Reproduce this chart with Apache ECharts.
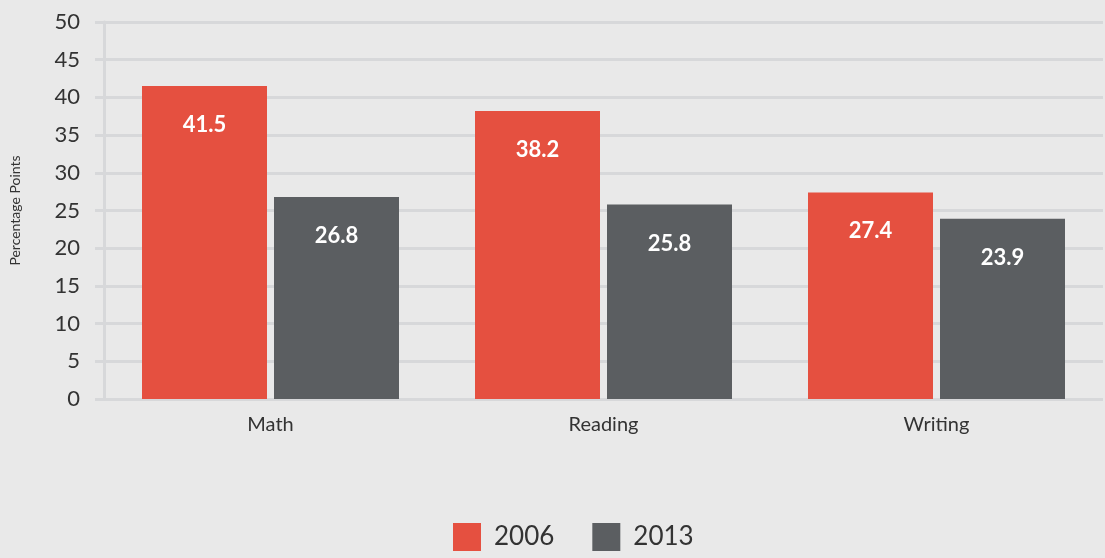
<!DOCTYPE html>
<html>
<head>
<meta charset="utf-8">
<script src="https://cdn.jsdelivr.net/npm/echarts@6/dist/echarts.min.js"></script>
<style>
  html, body { margin: 0; padding: 0; background: #e9e9e9; }
  #main { width: 1105px; height: 558px; }
</style>
</head>
<body>
<div id="main"></div>
<script>
// data
var categories = ['Math', 'Reading', 'Writing'];
var values2006 = [41.5, 38.2, 27.4];
var values2013 = [26.8, 25.8, 23.9];

var chart = echarts.init(document.getElementById('main'));

var barLabel = {
  show: true,
  position: 'insideTop',
  distance: 28,
  color: '#ffffff',
  fontSize: 22,
  fontWeight: 'bold',
  fontFamily: 'Lato'
};

chart.setOption({
  backgroundColor: '#e9e9e9',
  textStyle: { fontFamily: 'Lato' },
  grid: {
    left: 103,
    right: 2,
    top: 22,
    bottom: 159
  },
  legend: {
    bottom: 2,
    left: 448,
    itemWidth: 28,
    itemHeight: 28,
    itemGap: 38,
    icon: 'rect',
    textStyle: { fontSize: 26, color: '#333', fontFamily: 'Lato', padding: [0, 0, 0, 8] },
    data: ['2006', '2013']
  },
  xAxis: {
    type: 'category',
    data: categories,
    axisLine: { show: false },
    axisTick: { show: false },
    axisLabel: { fontSize: 20, color: '#333', margin: 16 }
  },
  yAxis: {
    type: 'value',
    min: 0,
    max: 50,
    interval: 5,
    name: 'Percentage Points',
    nameLocation: 'middle',
    nameGap: 82,
    nameTextStyle: { fontSize: 14, color: '#333' },
    axisLine: { show: true, lineStyle: { color: '#d7d8da', width: 3 } },
    axisTick: { show: true, length: 9, lineStyle: { color: '#d7d8da', width: 3 } },
    axisLabel: { fontSize: 22, color: '#333', margin: 24 },
    splitLine: { lineStyle: { color: '#d7d8da', width: 3 } }
  },
  series: [
    {
      name: '2006',
      type: 'bar',
      data: values2006,
      barWidth: 125,
      barGap: '5.6%',
      itemStyle: { color: '#e55040' },
      label: barLabel
    },
    {
      name: '2013',
      type: 'bar',
      data: values2013,
      barWidth: 125,
      itemStyle: { color: '#5b5e61' },
      label: barLabel
    }
  ]
});
</script>
</body>
</html>
